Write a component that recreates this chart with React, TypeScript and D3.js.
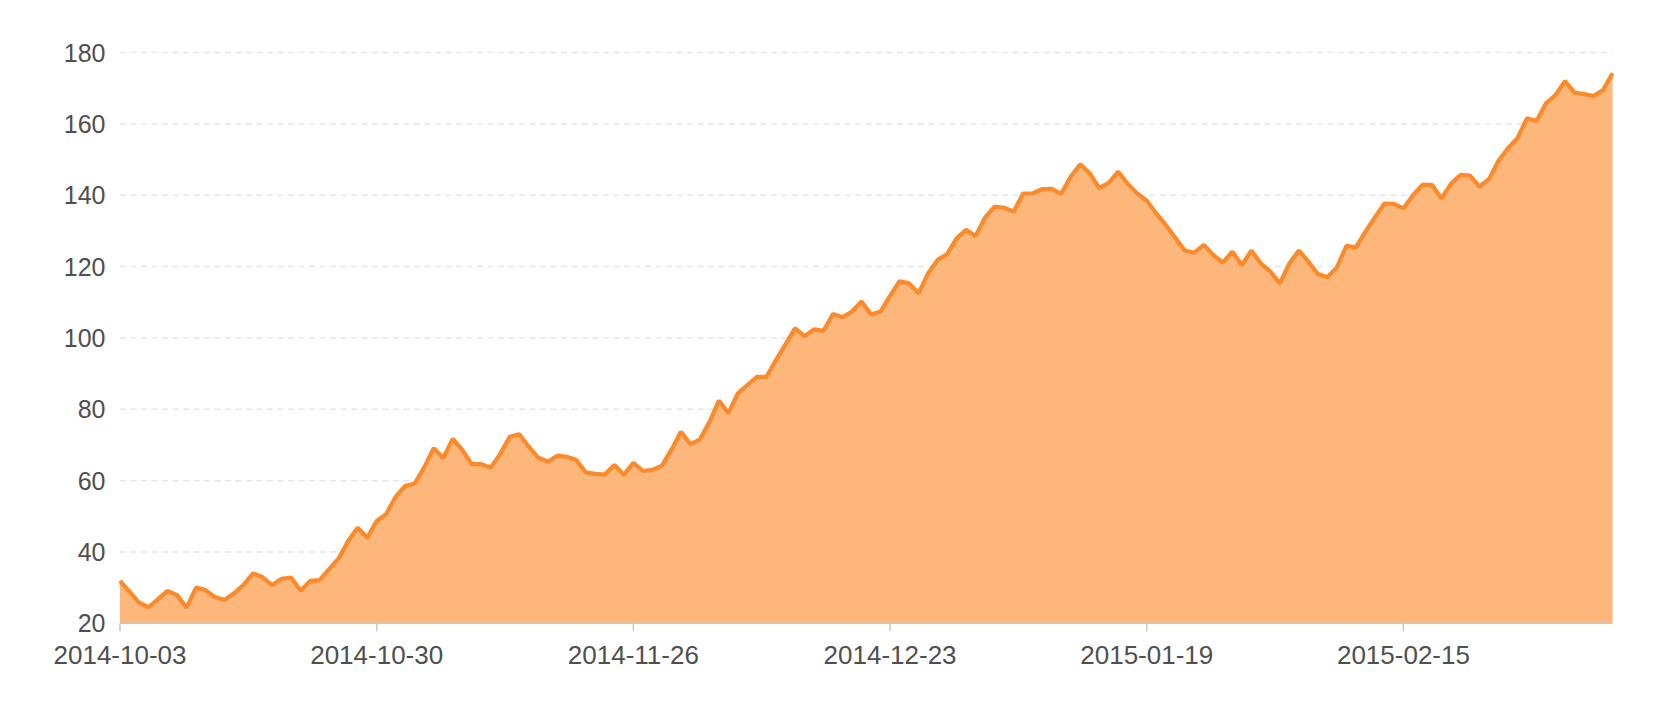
import React from "react";
import * as d3 from "d3";

const START_DATE = "2014-10-03";
const VALUES: number[] = [
  31.9, 28.9, 25.8, 24.5, 26.8, 29.1, 27.9, 24.4, 30.0, 29.3,
  27.3, 26.6, 28.4, 30.8, 34.0, 32.9, 30.7, 32.5, 32.8, 29.1,
  31.9, 32.1, 35.2, 38.2, 43.1, 46.8, 44.0, 48.7, 50.6, 55.5,
  58.5, 59.2, 63.7, 69.1, 66.3, 71.7, 68.6, 64.6, 64.6, 63.6,
  67.5, 72.3, 73.0, 69.5, 66.4, 65.3, 67.0, 66.7, 65.8, 62.3,
  61.9, 61.7, 64.4, 61.6, 65.0, 62.7, 63.0, 64.2, 68.6, 73.7,
  70.2, 71.6, 76.4, 82.4, 78.9, 84.5, 86.8, 89.1, 89.1, 93.8,
  98.2, 102.7, 100.5, 102.4, 102.0, 106.7, 105.8, 107.4, 110.2, 106.6,
  107.4, 111.8, 115.9, 115.3, 112.5, 118.1, 121.9, 123.5, 127.9, 130.3,
  128.6, 133.8, 136.8, 136.5, 135.4, 140.5, 140.5, 141.7, 141.8, 140.4,
  145.2, 148.7, 146.2, 142.0, 143.5, 146.6, 143.2, 140.5, 138.5, 134.9,
  131.7, 128.1, 124.5, 123.9, 126.1, 123.3, 121.1, 124.2, 120.4, 124.5,
  120.9, 118.6, 115.3, 120.9, 124.5, 121.4, 117.9, 117.0, 119.8, 125.8,
  125.4, 129.8, 133.8, 137.7, 137.6, 136.3, 140.0, 142.9, 142.9, 139.1,
  143.2, 145.7, 145.5, 142.4, 144.5, 149.7, 153.2, 156.0, 161.6, 160.8,
  165.8, 168.1, 172.0, 168.8, 168.4, 167.8, 169.5, 174.2,
];
const X_TICK_LABELS = ["2014-10-03", "2014-10-30", "2014-11-26", "2014-12-23", "2015-01-19", "2015-02-15"];
const Y_TICKS = [20, 40, 60, 80, 100, 120, 140, 160, 180];

const W = 1658;
const H = 712;
const LEFT = 120;
const RIGHT = 1612.6;
const TOP = 52.6;
const BOTTOM = 623.3;
const FONT = "'Liberation Sans', Arial, Helvetica, sans-serif";

const parse = d3.utcParse("%Y-%m-%d");
const fmt = d3.utcFormat("%Y-%m-%d");
const start = parse(START_DATE) as Date;
const DATES: Date[] = VALUES.map((_, i) => d3.utcDay.offset(start, i));

export default function App() {
  const x = d3.scaleUtc().domain([DATES[0], DATES[DATES.length - 1]]).range([LEFT, RIGHT]);
  const y = d3.scaleLinear().domain([20, 180]).range([BOTTOM, TOP]);
  const data = DATES.map((d, i) => ({ d, v: VALUES[i] }));
  const line = d3.line<{ d: Date; v: number }>().x((p) => x(p.d)).y((p) => y(p.v));
  const area = d3
    .area<{ d: Date; v: number }>()
    .x((p) => x(p.d))
    .y0(y(20))
    .y1((p) => y(p.v));
  const tickDates = X_TICK_LABELS.map((s) => parse(s) as Date);

  return (
    <svg
      width={W}
      height={H}
      style={{ position: "absolute", left: 0, top: 0, background: "#fff" }}
    >
      {Y_TICKS.filter((t) => t !== 20).map((t) => (
        <line
          key={"g" + t}
          x1={LEFT}
          x2={RIGHT}
          y1={y(t)}
          y2={y(t)}
          stroke="#e6e6e6"
          strokeWidth={1.5}
          strokeDasharray="6 4.5"
        />
      ))}
      <path d={area(data) || ""} fill="#fdb77b" />
      <path
        d={line(data) || ""}
        fill="none"
        stroke="#fd8a2a"
        strokeWidth={4.2}
        strokeLinejoin="bevel"
      />
      <line x1={LEFT} x2={RIGHT} y1={BOTTOM} y2={BOTTOM} stroke="#c8c8c8" strokeWidth={1.5} />
      {tickDates.map((d, i) => (
        <g key={"x" + i}>
          <line x1={x(d)} x2={x(d)} y1={BOTTOM} y2={BOTTOM + 8} stroke="#c8c8c8" strokeWidth={1.5} />
          <text
            x={x(d)}
            y={655}
            textAnchor="middle"
            dominantBaseline="central"
            fontFamily={FONT}
            fontSize={26}
            fill="#4f4f4f"
          >
            {fmt(d)}
          </text>
        </g>
      ))}
      {Y_TICKS.map((t) => (
        <text
          key={"y" + t}
          x={105.5}
          y={y(t)}
          textAnchor="end"
          dominantBaseline="central"
          fontFamily={FONT}
          fontSize={25}
          fill="#4f4f4f"
        >
          {t}
        </text>
      ))}
    </svg>
  );
}
